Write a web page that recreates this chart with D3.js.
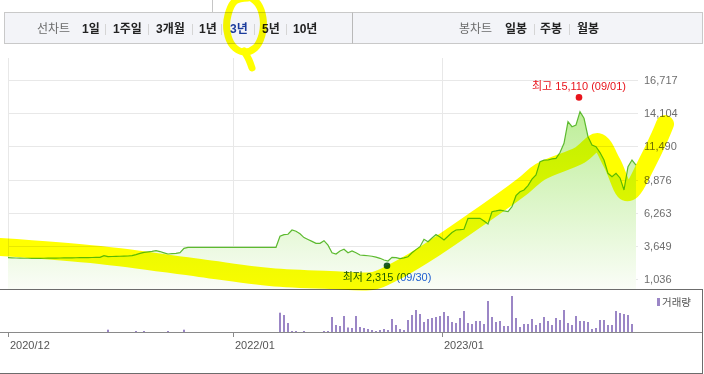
<!DOCTYPE html>
<html>
<head>
<meta charset="utf-8">
<script src="https://cdn.jsdelivr.net/npm/d3@7"></script>
<style>
body { margin: 0; background: #fff; }
svg { display: block; font-family: "Liberation Sans", "Noto Sans CJK KR", sans-serif; }
</style>
</head>
<body>
<svg id="chart" width="704" height="374"></svg>
<script>
// weekly close, Dec 2020 .. Nov 2023
let closes = [
	2714, 2700, 2690, 2680, 2670, 2670, 2667, 2667, 2667,
	2670, 2675, 2680, 2685, 2690, 2695, 2700, 2705, 2710, 2715, 2720, 2725, 2730, 2738, 2746,
	2880, 2800, 2810, 2820, 2830, 2840, 2848, 2880, 2960, 3060, 3130, 3170, 3210, 3266, 3200, 3100, 3006, 3030, 3060, 3108,
	3450,
	3534, 3534, 3534, 3534, 3534, 3534, 3534, 3534, 3534, 3534, 3534, 3534, 3534, 3534, 3534, 3534, 3534, 3534, 3534, 3534, 3534, 3534, 3534,
	4400, 4530, 4560, 4897, 4800, 4600, 4300, 4150, 4000, 3850, 3849, 4054, 3700, 3100, 3006, 3250,
	3376, 3108, 3242, 3100, 2927, 2900, 2870, 2830, 2760, 2667, 2530, 2454, 2746, 2720, 2636, 2700, 2793,
	3100, 3350, 3581, 4164, 3975, 4267, 4543, 4346, 4109, 4400, 4700, 4897, 4920, 4952, 5819, 5820, 5820, 5819, 5600, 5370,
	6339, 6400, 6470, 6400, 6340, 6733, 7600, 7915, 8050, 8400, 8900, 9231, 10279, 10400, 10413, 10500, 10545, 11000, 11729, 13431,
	13037, 13171, 14219, 13699, 12249, 11595, 11461, 11000, 10413, 9365, 9097, 9365, 9000, 8049, 9885, 10413, 10019
];

// weekly volume (10k shares)
let volumes = [
	0, 0, 0, 0, 0, 0, 0, 0, 0, 0, 0, 0, 0, 0, 0, 0, 0, 0, 0, 0, 0, 0, 0, 0, 0,
	23, 0, 0, 0, 0, 0, 0, 10, 0, 10, 0, 0, 0, 0, 0, 10, 0, 0, 0, 23,
	0, 0, 0, 0, 0, 0, 0, 0, 0, 0, 0, 0, 0, 0, 0, 0, 0, 0, 0, 0, 0, 0, 0,
	193, 170, 90, 10, 10, 0, 10, 0, 0, 0, 0, 10, 10, 150, 70, 60,
	160, 45, 40, 160, 50, 40, 30, 20, 10, 20, 30, 20, 130, 70, 30, 20, 120,
	170, 220, 180, 100, 130, 140, 150, 160, 200, 160, 100, 90, 140, 210, 90, 80, 110, 110, 80, 310,
	150, 100, 110, 60, 60, 360, 140, 50, 80, 80, 130, 70, 90, 150, 110, 70, 140, 120, 220, 90,
	70, 160, 110, 110, 100, 30, 40, 120, 120, 70, 70, 210, 190, 180, 170, 80, 0
];

let priceTicks = [1036, 3649, 6263, 8876, 11490, 14104, 16717];
let dateLabels = ['2020/12', '2022/01', '2023/01'];
let dateIndex = [0, 56.25, 108.5];

let high = {i: 142.75, v: 15110, text: '최고 15,110', date: '(09/01)'};
let low = {i: 94.75, v: 2315, text: '최저 2,315', date: '(09/30)'};

let lineMenu = ['1일', '1주일', '3개월', '1년', '3년', '5년', '10년'];
let candleMenu = ['일봉', '주봉', '월봉'];

// marker-pen scribbles, in chart units [week index, price]
let scribble = [
	[-2, 3558], [23, 2927], [48, 1903], [65.5, 1194], [80.5, 957], [91.5, 900], [96, 1509],
	[98, 1824], [106.25, 3400], [117.25, 5764], [128.75, 8364], [133, 9468], [143, 10807],
	[147.5, 11832], [151, 10177], [154.5, 7892], [156, 8049], [159.5, 10019], [163, 12304], [164.25, 13250]
];

let svg = d3.select('#chart');

let x = d3.scaleLinear().domain([0, closes.length - 1]).range([8, 636]);
let y = d3.scaleLinear().domain([1036, 16717]).range([279, 80]);
let yVol = d3.scaleLinear().domain([0, 360]).range([332, 296]);
let px = v => Math.round(v) + 0.5;

// ---------------- toolbar ----------------
svg.append('line').attr('x1', 212.5).attr('x2', 212.5).attr('y1', 0).attr('y2', 12)
		.attr('stroke', '#c6c6c6');
svg.append('rect').attr('x', 4.5).attr('y', 12.5).attr('width', 698).attr('height', 31)
		.attr('fill', '#f3f4f8').attr('stroke', '#c9c9c9');
svg.append('line').attr('x1', 352.5).attr('x2', 352.5).attr('y1', 12.5).attr('y2', 43.5)
		.attr('stroke', '#b9b9b9');

function menu(title, titleX, items, itemX, sepX) {
	let g = svg.append('g').attr('font-size', 12);
	g.append('text').attr('x', titleX).attr('y', 33).attr('fill', '#6b6b6b').text(title);
	g.selectAll('.item').data(items).enter().append('text')
			.attr('x', (d, k) => itemX[k]).attr('y', 33)
			.attr('font-weight', 'bold')
			.attr('fill', d => d === '3년' ? '#1b3c9c' : '#222')
			.text(d => d);
	g.selectAll('.sep').data(sepX).enter().append('line')
			.attr('x1', d => d + 0.5).attr('x2', d => d + 0.5).attr('y1', 24).attr('y2', 35)
			.attr('stroke', '#d5d5d5');
}
menu('선차트', 37, lineMenu, [82, 113, 156, 199, 230, 262, 293], [105, 148, 192, 221, 254, 286]);
menu('봉차트', 459, candleMenu, [505, 540, 577], [534, 569]);

// ---------------- price panel ----------------
let defs = svg.append('defs');
let grad = defs.append('linearGradient').attr('id', 'fillGrad')
		.attr('gradientUnits', 'userSpaceOnUse')
		.attr('x1', 0).attr('x2', 0).attr('y1', y(d3.max(closes))).attr('y2', 289);
grad.append('stop').attr('offset', 0).attr('stop-color', '#bdee97');
grad.append('stop').attr('offset', 1).attr('stop-color', '#fafdf7');

svg.append('g').selectAll('line').data(priceTicks).enter().append('line')
		.attr('x1', 8).attr('x2', 638)
		.attr('y1', d => px(y(d))).attr('y2', d => px(y(d)))
		.attr('stroke', '#e8e8e8');

svg.append('g').selectAll('line').data(dateIndex).enter().append('line')
		.attr('x1', d => px(x(d))).attr('x2', d => px(x(d)))
		.attr('y1', 58).attr('y2', 289)
		.attr('stroke', '#e8e8e8');

svg.append('g').selectAll('text').data(priceTicks).enter().append('text')
		.attr('x', 644).attr('y', d => y(d) + 4)
		.attr('font-size', 11).attr('fill', '#6e6e6e')
		.text(d => d3.format(',')(d));

let area = d3.area()
		.x((d, k) => x(k))
		.y0(289)
		.y1(d => y(d));
svg.append('path').datum(closes).attr('d', area).attr('fill', 'url(#fillGrad)');

let line = d3.line()
		.x((d, k) => x(k))
		.y(d => y(d));
svg.append('path').datum(closes).attr('d', line)
		.attr('fill', 'none').attr('stroke', '#5cba2f').attr('stroke-width', 1.2);

// high / low markers
svg.append('circle').attr('cx', x(high.i)).attr('cy', y(high.v) - 3).attr('r', 3.3).attr('fill', '#e8141c');
svg.append('text').attr('x', x(high.i)).attr('y', y(high.v) - 10)
		.attr('text-anchor', 'middle').attr('font-size', 11).attr('fill', '#e8141c')
		.text(high.text + ' ' + high.date);

svg.append('circle').attr('cx', x(low.i)).attr('cy', y(low.v) + 3).attr('r', 3.3).attr('fill', '#1c5a2c');
let lowText = svg.append('text').attr('x', x(low.i)).attr('y', y(low.v) + 18)
		.attr('text-anchor', 'middle').attr('font-size', 11);
lowText.append('tspan').attr('fill', '#1d5a1d').text(low.text + ' ');
lowText.append('tspan').attr('fill', '#2060d0').text(low.date);

svg.append('line').attr('x1', 0).attr('x2', 702).attr('y1', 289.5).attr('y2', 289.5)
		.attr('stroke', '#6c6c6c');

// ---------------- volume panel ----------------
svg.append('g').selectAll('rect').data(volumes).enter().append('rect')
		.attr('x', (d, k) => Math.round(x(k)) - 1)
		.attr('width', 2)
		.attr('y', d => yVol(d))
		.attr('height', d => 332 - yVol(d))
		.attr('fill', '#9b86c6');

svg.append('line').attr('x1', 0).attr('x2', 702).attr('y1', 332.5).attr('y2', 332.5)
		.attr('stroke', '#8a8a8a');
svg.append('g').selectAll('line').data(dateIndex).enter().append('line')
		.attr('x1', d => px(x(d))).attr('x2', d => px(x(d)))
		.attr('y1', 332).attr('y2', 337)
		.attr('stroke', '#8a8a8a');
svg.append('g').selectAll('text').data(dateLabels).enter().append('text')
		.attr('x', (d, k) => x(dateIndex[k]) + 2).attr('y', 349)
		.attr('font-size', 11).attr('fill', '#555')
		.text(d => d);

svg.append('rect').attr('x', 657).attr('y', 298).attr('width', 3).attr('height', 8).attr('fill', '#9b86c6');
svg.append('text').attr('x', 662).attr('y', 306).attr('font-size', 10.5).attr('fill', '#555').text('거래량');

svg.append('line').attr('x1', 702.5).attr('x2', 702.5).attr('y1', 289).attr('y2', 374)
		.attr('stroke', '#6c6c6c');
svg.append('line').attr('x1', 0).attr('x2', 702).attr('y1', 373.5).attr('y2', 373.5)
		.attr('stroke', '#6c6c6c');

// ---------------- marker pen ----------------
let pen = svg.append('g').style('mix-blend-mode', 'multiply');
pen.append('path').datum(scribble)
		.attr('d', d3.line().x(d => x(d[0])).y(d => y(d[1])).curve(d3.curveCatmullRom))
		.attr('fill', 'none').attr('stroke', '#ffff00').attr('stroke-width', 18)
		.attr('stroke-linecap', 'round').attr('stroke-linejoin', 'round');

// loop round the active "3년" item
let cx = 230, cy = 29;
let loop = [[18, -31], [5, -28], [-2, -14], [-3, 2], [3, 17], [14, 23], [25, 19], [32, 6], [33, -11], [28, -25], [20, -32]];
pen.append('path').datum(loop)
		.attr('d', d3.line().x(d => cx + d[0]).y(d => cy + d[1]).curve(d3.curveCatmullRom))
		.attr('fill', 'none').attr('stroke', '#ffff00').attr('stroke-width', 7)
		.attr('stroke-linecap', 'round');
pen.append('path').datum([[14, 22], [19, 31], [22, 39]])
		.attr('d', d3.line().x(d => cx + d[0]).y(d => cy + d[1]).curve(d3.curveCatmullRom))
		.attr('fill', 'none').attr('stroke', '#ffff00').attr('stroke-width', 7)
		.attr('stroke-linecap', 'round');
</script>
</body>
</html>
